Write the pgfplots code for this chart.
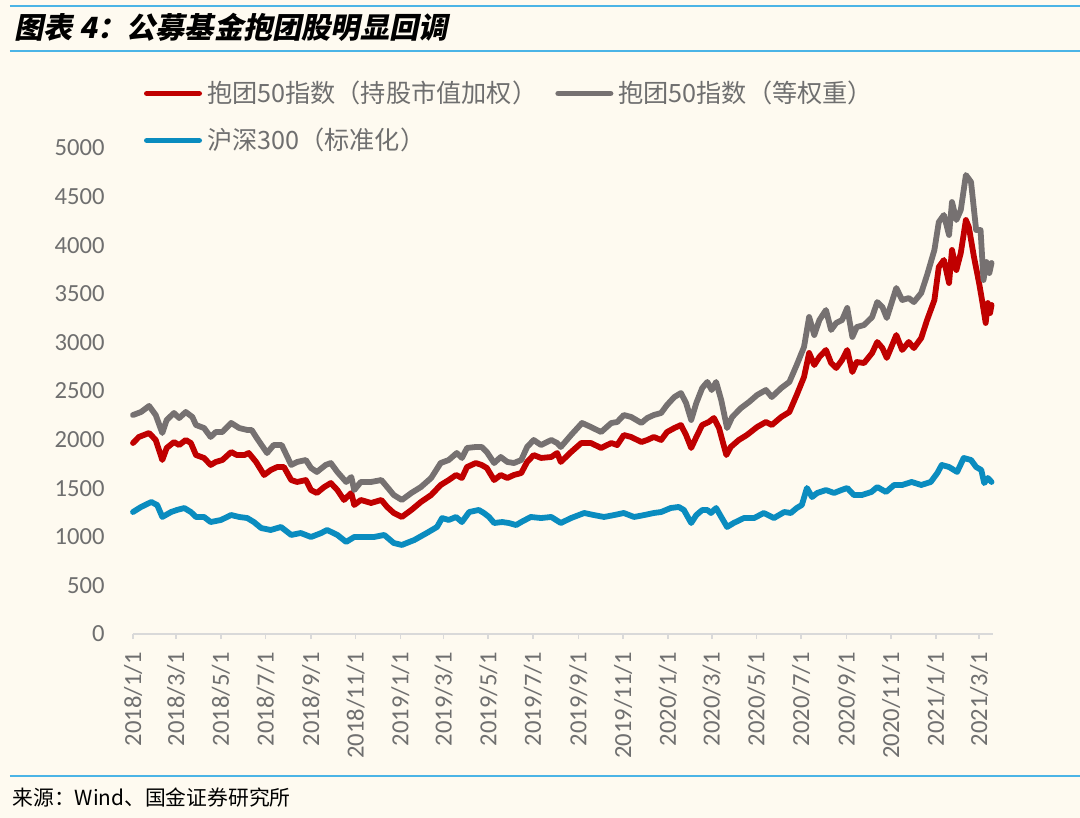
\documentclass[border=0pt]{standalone}
\usepackage{fontspec}
\setmainfont{Carlito}
\newfontfamily\cjk{Noto Sans CJK SC}
\newfontfamily\titlefont[FakeSlant=0.2]{Noto Sans CJK SC}
\usepackage{pgfplots}
\pgfplotsset{compat=1.18}
\definecolor{bg}{HTML}{FEFAF0}
\definecolor{cred}{HTML}{C00000}
\definecolor{cgray}{HTML}{767171}
\definecolor{cblue}{HTML}{0A8CBF}
\definecolor{lineblue}{HTML}{4BB4E6}
\definecolor{txt}{HTML}{6F6F6F}
\definecolor{axisgray}{HTML}{D9D9D9}

\pgfplotstableread{
d v
0 1965
8 2027
22 2068
31 1996
40 1790
46 1914
56 1975
63 1944
72 1996
79 1965
86 1841
97 1811
106 1739
113 1770
122 1790
134 1872
142 1841
152 1841
158 1862
168 1770
179 1636
188 1687
197 1718
206 1718
216 1584
224 1564
236 1584
243 1481
251 1451
261 1512
270 1553
279 1481
288 1379
298 1451
302 1327
311 1379
325 1348
339 1379
347 1307
356 1245
367 1204
380 1276
393 1358
407 1430
420 1533
431 1584
441 1636
449 1605
456 1718
468 1759
476 1739
483 1708
493 1584
502 1636
511 1605
520 1636
530 1656
538 1770
547 1841
557 1811
571 1821
579 1862
584 1770
598 1872
612 1965
625 1965
639 1914
653 1965
661 1944
670 2047
680 2027
694 1975
702 1996
711 2027
721 1996
729 2078
739 2119
748 2150
755 2047
762 1914
769 2027
777 2150
786 2181
793 2222
800 2119
810 1841
816 1924
827 1996
838 2047
852 2130
864 2181
872 2150
885 2233
896 2284
906 2459
916 2644
923 2891
930 2767
937 2850
946 2922
953 2788
960 2737
968 2819
975 2922
982 2695
988 2798
998 2788
1009 2891
1016 3004
1023 2942
1029 2840
1042 3076
1050 2922
1059 3004
1066 2942
1076 3045
1084 3230
1094 3436
1100 3776
1107 3848
1114 3611
1118 3951
1124 3745
1130 3920
1137 4259
1141 4187
1148 3879
1155 3611
1159 3436
1164 3200
1167 3405
1170 3302
1172 3385
}\redtab

\pgfplotstableread{
d v
0 2253
11 2284
22 2346
31 2253
40 2068
46 2202
56 2274
63 2222
72 2284
81 2233
86 2150
97 2119
106 2027
113 2078
122 2078
134 2171
145 2119
156 2099
162 2099
169 2016
183 1862
192 1944
203 1944
216 1739
224 1770
236 1790
243 1708
251 1667
263 1739
270 1759
279 1667
291 1564
298 1615
302 1481
311 1564
325 1564
339 1584
347 1512
356 1430
367 1379
380 1451
393 1512
407 1605
420 1759
431 1790
442 1862
449 1811
456 1914
468 1924
476 1924
483 1872
493 1759
502 1821
511 1770
520 1759
530 1790
538 1924
547 1996
557 1944
571 1996
579 1965
584 1924
598 2047
613 2171
625 2130
639 2078
653 2171
661 2181
670 2253
680 2233
694 2171
702 2222
711 2253
721 2274
729 2356
739 2438
748 2479
755 2377
762 2202
769 2377
777 2530
784 2593
790 2510
796 2593
803 2407
811 2119
818 2233
830 2325
841 2387
852 2459
864 2510
872 2438
885 2531
896 2593
906 2767
916 2953
923 3261
930 3076
937 3230
946 3333
953 3128
960 3200
968 3230
975 3354
982 3056
988 3158
998 3179
1009 3261
1016 3415
1023 3364
1029 3251
1042 3560
1050 3436
1059 3456
1066 3415
1076 3508
1084 3693
1094 3951
1100 4238
1107 4311
1114 4105
1118 4444
1124 4259
1130 4362
1137 4722
1144 4650
1151 4156
1157 4156
1161 3642
1165 3827
1169 3714
1172 3817
}\graytab

\pgfplotstableread{
d v
0 1255
11 1307
25 1358
33 1327
40 1204
52 1255
60 1276
70 1296
79 1255
86 1204
97 1204
106 1152
120 1173
134 1224
145 1204
156 1193
165 1152
175 1090
188 1070
202 1101
216 1019
229 1039
243 998
257 1039
265 1070
279 1019
291 947
302 998
315 998
329 998
343 1019
356 936
367 916
384 967
401 1039
415 1101
422 1193
431 1173
441 1204
449 1152
459 1255
472 1276
479 1245
486 1204
493 1142
504 1152
513 1142
523 1121
530 1152
543 1204
557 1193
571 1204
584 1142
598 1193
616 1245
629 1224
643 1204
657 1224
670 1245
684 1204
698 1224
711 1245
721 1255
734 1296
745 1307
752 1276
762 1142
769 1224
777 1275
784 1276
789 1245
796 1296
803 1204
811 1101
820 1142
834 1193
848 1193
861 1245
875 1193
889 1255
898 1245
906 1296
913 1327
920 1502
927 1409
934 1451
946 1481
957 1451
967 1481
975 1502
984 1430
995 1430
1008 1461
1016 1512
1028 1461
1039 1533
1050 1533
1063 1564
1076 1533
1089 1564
1098 1656
1104 1739
1114 1718
1125 1667
1134 1811
1144 1790
1151 1718
1158 1687
1162 1553
1167 1605
1172 1564
}\bluetab

\begin{document}
\begin{tikzpicture}
\fill[bg] (-66.5pt,-92pt) rectangle (473.5pt,317pt);
\draw[lineblue, line width=1.3pt] (-61.5pt,314pt) -- (473.5pt,314pt);
\draw[lineblue, line width=1.3pt] (-61.5pt,291.5pt) -- (473.5pt,291.5pt);
\node[anchor=west, inner sep=0pt] at (-59.5pt,303.5pt) {\titlefont\bfseries\fontsize{14.6}{17}\selectfont 图表 4：公募基金抱团股明显回调};
\draw[lineblue, line width=1.3pt] (-61.5pt,-71pt) -- (473.5pt,-71pt);
\node[anchor=west, inner sep=0pt] at (-60.5pt,-82pt) {\cjk\fontsize{10.4}{12}\selectfont 来源：Wind、国金证券研究所};
\begin{axis}[
  at={(0pt,0pt)}, anchor=south west,
  width=430pt, height=243pt, scale only axis,
  xmin=0, xmax=1174, ymin=0, ymax=5000,
  clip=false,
  axis lines*=left,
  x axis line style={axisgray, line width=0.8pt},
  y axis line style={draw=none},
  tick align=outside,
  major tick length=2.5pt,
  xtick={0,59,120,181,243,304,365,424,485,546,608,669,730,790,851,912,974,1035,1096,1155},
  xticklabels={2018/1/1,2018/3/1,2018/5/1,2018/7/1,2018/9/1,2018/11/1,2019/1/1,2019/3/1,2019/5/1,2019/7/1,2019/9/1,2019/11/1,2020/1/1,2020/3/1,2020/5/1,2020/7/1,2020/9/1,2020/11/1,2021/1/1,2021/3/1},
  xtick style={axisgray, line width=0.8pt},
  x tick label style={rotate=90, anchor=east, inner sep=0pt, font=\fontsize{12.3}{14}\selectfont, text=txt},
  xticklabel shift=6.5pt,
  ytick={0,500,...,5000},
  ytick style={draw=none},
  y tick label style={inner sep=0pt, font=\fontsize{12.3}{14}\selectfont, text=txt},
  yticklabel shift=11.5pt,
  /pgf/number format/.cd, 1000 sep={}, assume math mode=true,
  /pgfplots/.cd,
  every axis plot/.append style={line width=2.9pt, line join=round, line cap=round},
  legend columns=2,
  legend cell align=left,
  legend image code/.code={\draw[#1, line width=2.9pt, line cap=round] (1.45pt,0pt) -- (27.55pt,0pt);},
  legend style={at={(axis description cs:0.0128,1.1379)}, anchor=north west,
    draw=none, fill=none, inner sep=0pt, outer sep=0pt,
    font=\cjk\fontsize{12.6}{14}\selectfont, text=txt,
    nodes={inner sep=0pt, text height=11pt, text depth=1.5pt},
    row sep=11pt,
    /tikz/every odd column/.append style={column sep=2.5pt},
    /tikz/every even column/.append style={column sep=9pt}},
]
\addplot[cred] table[x=d, y=v] {\redtab};
\addlegendentry{抱团50指数（持股市值加权）}
\addplot[cgray] table[x=d, y=v] {\graytab};
\addlegendentry{抱团50指数（等权重）}
\addplot[cblue] table[x=d, y=v] {\bluetab};
\addlegendentry{沪深300（标准化）}
\end{axis}
\pgfresetboundingbox
\useasboundingbox (-66.5pt,-92pt) rectangle (473.5pt,317pt);
\end{tikzpicture}
\end{document}
